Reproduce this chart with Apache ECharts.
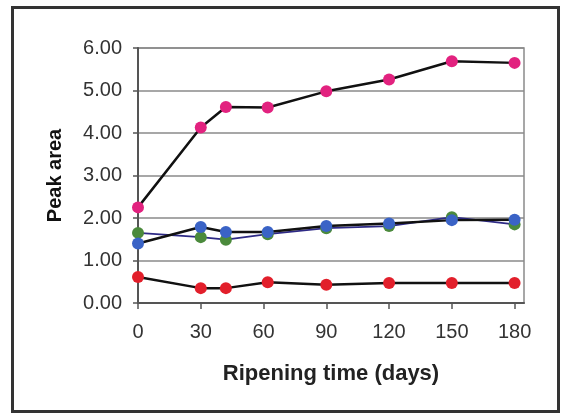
<!DOCTYPE html>
<html>
<head>
<meta charset="utf-8">
<style>
  html, body { margin: 0; padding: 0; background: #ffffff; }
  #chart { width: 561px; height: 415px; }
</style>
<script src="https://cdn.jsdelivr.net/npm/echarts@6/dist/echarts.min.js"></script>
</head>
<body>
<div id="chart"></div>
<script>
// Ripening time in days (x values of the sampled points)
const days = [0, 30, 42, 62, 90, 120, 150, 180];
// Peak area of each compound over ripening
const pinkPeak  = [2.25, 4.13, 4.61, 4.60, 4.98, 5.26, 5.69, 5.65];
const greenPeak = [1.65, 1.55, 1.49, 1.62, 1.76, 1.81, 2.02, 1.85];
const bluePeak  = [1.40, 1.79, 1.67, 1.67, 1.81, 1.87, 1.95, 1.96];
const redPeak   = [0.61, 0.35, 0.35, 0.49, 0.43, 0.47, 0.47, 0.47];
// Axis tick labels
const xTicks = [0, 30, 60, 90, 120, 150, 180];
const yTicks = [0, 1, 2, 3, 4, 5, 6];

const FONT = "'Liberation Sans', Arial, sans-serif";

function pairs(ys) {
  return days.map((d, i) => [d, ys[i]]);
}

function lineSeries(name, ys, markerColor, lineColor, lineWidth) {
  return {
    name: name,
    type: 'line',
    data: pairs(ys),
    symbol: 'circle',
    symbolSize: 12,
    itemStyle: { color: markerColor },
    lineStyle: { color: lineColor, width: lineWidth },
    emphasis: { disabled: true },
    animation: false
  };
}

const chart = echarts.init(document.getElementById('chart'), null, { renderer: 'canvas' });

chart.setOption({
  backgroundColor: '#ffffff',
  animation: false,
  grid: {
    left: 138, right: 37, top: 48, bottom: 112,
    show: true,
    borderColor: '#8a8a8a',
    borderWidth: 1.5,
    backgroundColor: '#ffffff'
  },
  graphic: [{
    type: 'rect',
    shape: { x: 12.5, y: 7.5, width: 546, height: 404 },
    style: { fill: 'none', stroke: '#333333', lineWidth: 3 },
    z: 100
  }],
  xAxis: {
    type: 'value',
    min: 0,
    max: 184.5,
    name: 'Ripening time (days)',
    nameLocation: 'middle',
    nameGap: 60,
    nameTextStyle: { fontFamily: FONT, fontSize: 22, fontWeight: 'bold', color: '#222' },
    axisLine: { show: true, onZero: false, lineStyle: { color: '#555', width: 2 } },
    axisTick: { show: true, inside: false, length: 6, customValues: xTicks, lineStyle: { color: '#555', width: 1.5 } },
    axisLabel: { customValues: xTicks, margin: 19, fontFamily: FONT, fontSize: 20, color: '#333' },
    splitLine: { show: false }
  },
  yAxis: {
    type: 'value',
    min: 0,
    max: 6,
    interval: 1,
    name: 'Peak area',
    nameLocation: 'middle',
    nameGap: 73,
    nameTextStyle: { fontFamily: FONT, fontSize: 20, fontWeight: 'bold', color: '#111' },
    axisLine: { show: true, lineStyle: { color: '#555', width: 2 } },
    axisTick: { show: true, inside: false, length: 5, customValues: yTicks, lineStyle: { color: '#555', width: 1.5 } },
    axisLabel: {
      customValues: yTicks,
      margin: 16,
      fontFamily: FONT,
      fontSize: 20,
      color: '#333',
      formatter: v => v.toFixed(2)
    },
    splitLine: { show: true, lineStyle: { color: '#8a8a8a', width: 1.5 } }
  },
  series: [
    lineSeries('Pink', pinkPeak, '#e2227f', '#111111', 2.5),
    lineSeries('Red', redPeak, '#e21f2b', '#111111', 2.5),
    lineSeries('Green', greenPeak, '#4b8a3c', '#2e2a86', 1.8),
    lineSeries('Blue', bluePeak, '#3a63c6', '#111111', 2.5)
  ]
});
</script>
</body>
</html>
